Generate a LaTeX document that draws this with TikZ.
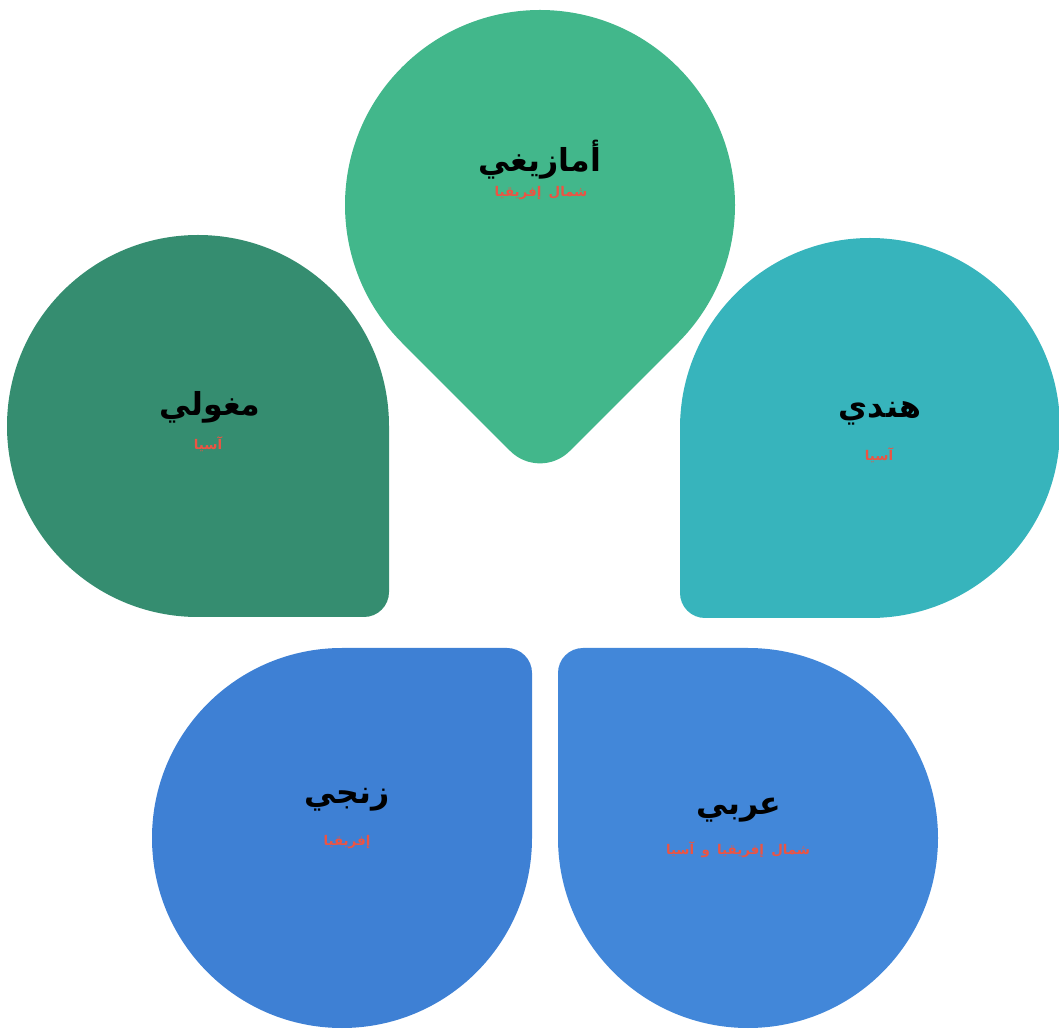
\documentclass[tikz,border=0pt]{standalone}
\usepackage{fontspec}
\newfontfamily\arabicfont[Script=Arabic]{DejaVu Sans}
\TeXXeTstate=1
\definecolor{dropgreen}{HTML}{42B78B}
\definecolor{dropdark}{HTML}{358D70}
\definecolor{dropteal}{HTML}{37B4BC}
\definecolor{dropblue}{HTML}{3E80D4}
\definecolor{dropblue2}{HTML}{4287D9}
\definecolor{dropred}{HTML}{EC5443}
\newcommand{\widewords}{\spaceskip=0.55em\relax}
% centre x, centre y, half side, turn, corner radius, colour
\newcommand{\petal}[6]{%
  \fill[#6, shift={(#1,#2)}, rotate=#4]
    (#3,0) -- (#3,-#3+#5) arc[start angle=0, end angle=-90, radius=#5]
    -- (0,-#3) arc[start angle=-90, end angle=-360, radius=#3] -- cycle;}

\begin{document}
\begin{tikzpicture}[x=0.025cm, y=0.025cm,
  racename/.style={font=\arabicfont\bfseries\fontsize{22.5}{26}\selectfont, text=black},
  placename/.style={font=\arabicfont\bfseries\fontsize{9.5}{11}\selectfont\widewords, text=dropred}]
  \useasboundingbox (0,0) rectangle (1059,1034);
  \petal{540}{829}{195}{-45}{42}{dropgreen}
  \petal{198}{608}{191}{0}{25}{dropdark}
  \petal{870}{606}{190}{-90}{25}{dropteal}
  \petal{342}{196}{190}{90}{25}{dropblue}
  \petal{748}{196}{190}{180}{25}{dropblue2}
  \node[racename] (amazigh) at (540,874) {\beginR أمازيغي\endR};
  \node[placename] (amazighland) at (541,841) {\beginR شمال إفريقيا\endR};
  \node[racename] (mongol) at (210,627) {\beginR مغولي\endR};
  \node[placename] (mongolland) at (208,590) {\beginR آسيا\endR};
  \node[racename] (hindi) at (880,621) {\beginR هندي\endR};
  \node[placename] (hindiland) at (879,579) {\beginR آسيا\endR};
  \node[racename] (zanji) at (347,234) {\beginR زنجي\endR};
  \node[placename] (zanjiland) at (347,192) {\beginR إفريقيا\endR};
  \node[racename] (arabi) at (739,224) {\beginR عربي\endR};
  \node[placename] (arabiland) at (738,184) {\beginR شمال إفريقيا و آسيا\endR};
\end{tikzpicture}
\end{document}
